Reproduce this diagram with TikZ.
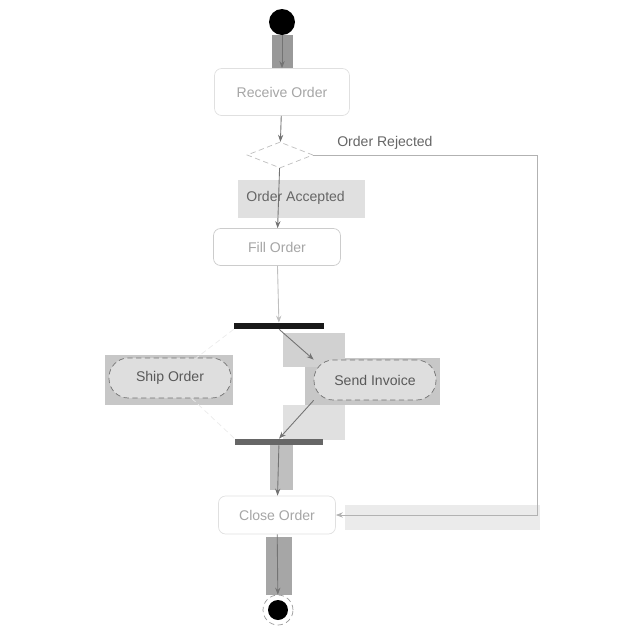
\documentclass[tikz,border=0pt]{standalone}
\usepackage{fontspec}
\setmainfont{Liberation Sans}
\usetikzlibrary{shapes.geometric,arrows.meta}
\begin{document}
\begin{tikzpicture}[x=0.02cm,y=-0.02cm,
  act/.style={draw=black!12,rounded corners=4pt,fill=white,font=\fontsize{8}{9}\selectfont,text=black!35,inner sep=0pt},
  pill/.style={draw=black!55,densely dashed,rounded corners=11pt,fill=black!13,font=\fontsize{8}{9}\selectfont,text=black!65,inner sep=0pt,minimum width=2.44cm,minimum height=0.8cm},
  bar/.style={rectangle,inner sep=0pt,minimum height=0.12cm,minimum width=1.8cm},
  flow/.style={draw=black!55,line width=0.5pt,-{Stealth[length=4pt,width=3pt]}},
  faint/.style={draw=black!8,line width=0.4pt,densely dashed},
  lbl/.style={font=\fontsize{8}{9}\selectfont,text=black!60,inner sep=1pt}]
\useasboundingbox (0,0) rectangle (640,640);
% highlight patches
\fill[black!40] (272,35) rectangle (293,68);
\fill[black!12] (238,180) rectangle (365,218);
\fill[black!22] (105,355) rectangle (233,405);
\fill[black!22] (305,358) rectangle (440,405);
\fill[black!18] (283,333) rectangle (345,367);
\fill[black!12] (283,405) rectangle (345,440);
\fill[black!25] (270,445) rectangle (293,490);
\fill[black!35] (266,537) rectangle (292,595);
\fill[black!8] (345,505) rectangle (540,530);
% nodes
\node[circle,fill=black,minimum size=0.52cm,inner sep=0pt] (start) at (282,22) {};
\node[act,minimum width=2.7cm,minimum height=0.94cm] (recv) at (282,92) {Receive Order};
\node[diamond,draw=black!25,densely dashed,fill=white,minimum width=1.32cm,minimum height=0.52cm,inner sep=0pt] (dia) at (280,155) {};
\node[act,draw=black!20,minimum width=2.54cm,minimum height=0.74cm] (fill) at (277,247) {Fill Order};
\node[bar,fill=black!90] (fork) at (279,326) {};
\node[pill] (ship) at (170,378) {Ship Order};
\node[pill] (inv) at (375,380) {Send Invoice};
\node[bar,fill=black!60,minimum width=1.76cm] (join) at (279,442) {};
\node[act,minimum width=2.34cm,minimum height=0.76cm] (close) at (277,515) {Close Order};
\node[circle,draw=black!40,densely dashed,fill=white,minimum size=0.6cm,inner sep=0pt] (end) at (278,610) {};
\node[circle,fill=black,minimum size=0.4cm,inner sep=0pt] (endin) at (278,610) {};
% connectors
\draw[flow] (start) -- (recv);
\draw[flow] (recv) -- (dia);
\draw[flow] (dia) -- node[lbl,pos=0.5,xshift=0.34cm]{Order Accepted} (fill);
\coordinate (c1) at (537,155);
\draw[flow,draw=black!30] (dia.east) -- node[lbl,pos=0.32,above=2pt]{Order Rejected} (c1) |- (close.east);
\draw[flow,draw=black!25] (fill) -- (fork);
\draw[faint] (fork.south west) -- (ship);
\draw[flow] (fork.south) ++(0.2,0) -- (inv.north west);
\draw[flow] (inv.south west) -- (join.north);
\draw[faint] (ship) -- (join.north west);
\draw[flow] (join) -- (close);
\draw[flow] (close) -- (end);
\end{tikzpicture}
\end{document}
